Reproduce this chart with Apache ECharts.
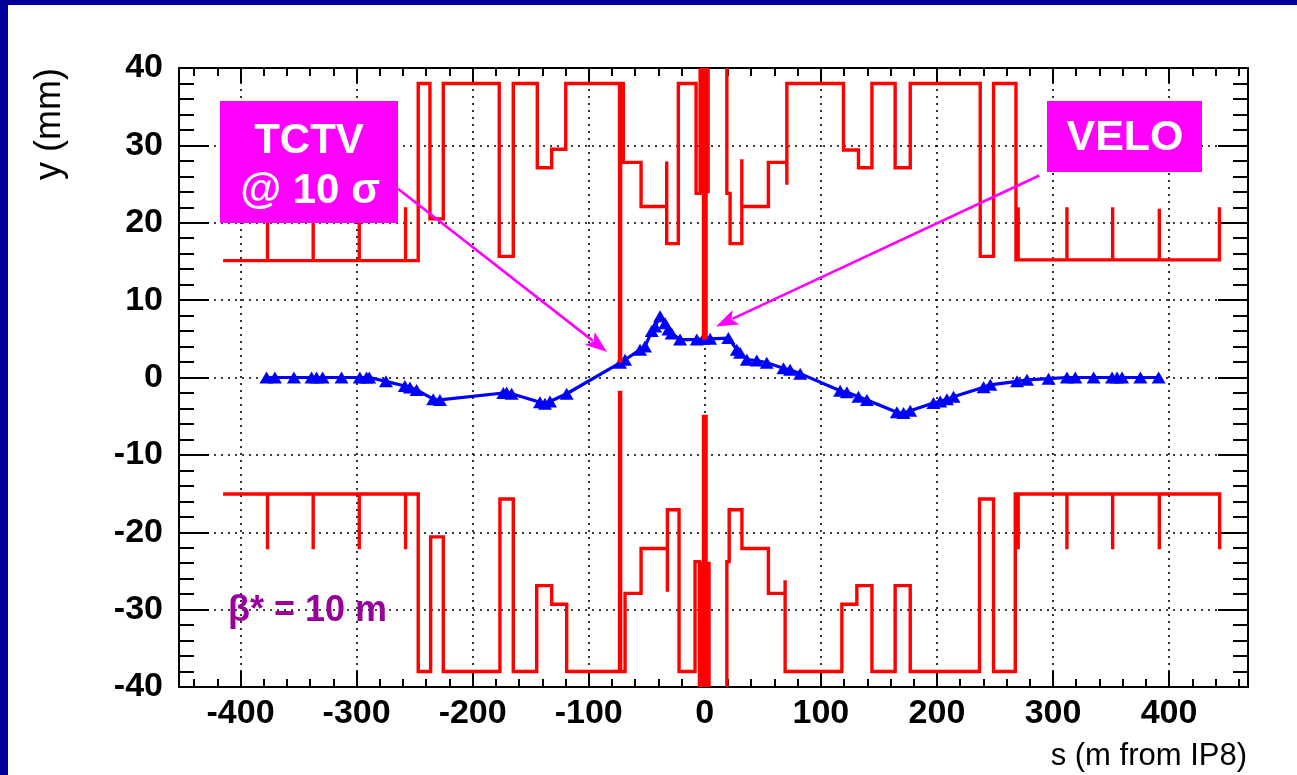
<!DOCTYPE html>
<html><head><meta charset="utf-8">
<script src="https://cdn.jsdelivr.net/npm/echarts@6/dist/echarts.min.js"></script>
<style>html,body{margin:0;padding:0;background:#fff;overflow:hidden}#c{width:1297px;height:775px}</style>
</head><body><div id="c"></div>
<script>
// Beam orbit (blue, triangles)
const orbitS = [-377.6,-370.4,-354,-338.8,-334.5,-329.3,-313,-297.2,-291.4,-289.1,-274.7,-258.4,-254,-248.3,-234,-228.2,-173.6,-170.7,-166.4,-142,-137.7,-133.4,-119,-73,-68.7,-55.8,-51.5,-45.7,-42.8,-38.5,-34.2,-31.4,-28.5,-21.3,-6.9,-1.2,4.6,20.3,27.6,30.4,36.2,44.8,53.4,67.8,73.5,82.2,116.6,122.4,132.4,139.7,165.5,171.2,177,197,202.8,208.6,214.3,240.2,246,269,277.6,296.2,312,319.2,335,350.9,355.2,359.5,375.3,391];
const orbitY = [0,0,0,0,0,0,0,0,0,0,-0.5,-1.1,-1.3,-1.6,-2.8,-2.9,-2.0,-1.95,-2.1,-3.2,-3.4,-3.1,-2.1,1.9,2.3,3.6,4.0,6.0,6.6,7.9,7.0,6.2,5.7,4.9,4.9,5.0,5.0,5.1,3.6,3.2,2.3,2.2,1.9,1.2,1.0,0.5,-1.7,-1.9,-2.5,-2.9,-4.5,-4.6,-4.3,-3.3,-3.1,-2.8,-2.5,-1.25,-0.95,-0.5,-0.3,-0.15,0,0,0,0,0,0,0,0];

// Aperture (red) [s, y] in m, mm
const upperLeft = [[-415,15.1],[-376.7,15.1],[-376.7,22],[-376.7,15.1],[-337.4,15.1],[-337.4,22],[-337.4,15.1],[-297.7,15.1],[-297.7,22],[-297.7,15.1],[-257.8,15.1],[-257.8,22],[-257.8,15.1],[-246.9,15.1],[-246.9,38],[-236.8,38],[-236.8,20.5],[-225.3,20.5],[-225.3,38],[-177.1,38],[-177.1,15.65],[-165,15.65],[-165,38],[-144.3,38],[-144.3,27.1],[-131.9,27.1],[-131.9,29.5],[-119.8,29.5],[-119.8,38],[-70.2,38],[-70.2,27.8],[-54.9,27.8],[-54.9,22.1],[-32.8,22.1],[-32.8,27.9],[-32.8,17.3],[-22.8,17.3],[-22.8,38],[-7.5,38],[-7.5,23.8],[-4,23.8],[-4,40]];
const upperRight = [[19,40],[19,23.8],[21.8,23.8],[21.8,17.3],[31.9,17.3],[31.9,28.2],[31.9,22.1],[54.8,22.1],[54.8,27.8],[70.7,27.8],[70.7,24.9],[70.7,38],[119.5,38],[119.5,29.4],[132.4,29.4],[132.4,27.1],[144,27.1],[144,38],[164,38],[164,27.1],[177,27.1],[177,38],[237.3,38],[237.3,15.65],[248.8,15.65],[248.8,21.9],[248.8,38],[268.1,38],[268.1,15.2],[270,15.2],[270,22],[270,15.2],[312,15.2],[312,22],[312,15.2],[351.4,15.2],[351.4,22],[351.4,15.2],[391.6,15.2],[391.6,21.8],[391.6,15.2],[443.4,15.2],[443.4,22]];
const lowerLeft = [[-415,-15.05],[-376.7,-15.05],[-376.7,-22.2],[-376.7,-15.05],[-337.4,-15.05],[-337.4,-22.2],[-337.4,-15.05],[-297.7,-15.05],[-297.7,-22.2],[-297.7,-15.05],[-257.8,-15.05],[-257.8,-22.2],[-257.8,-15.05],[-246.9,-15.05],[-246.9,-38],[-236.2,-38],[-236.2,-20.6],[-225.3,-20.6],[-225.3,-38],[-176.5,-38],[-176.5,-15.7],[-165,-15.7],[-165,-38],[-144.8,-38],[-144.8,-26.9],[-131.9,-26.9],[-131.9,-29.3],[-119,-29.3],[-119,-38],[-68.7,-38],[-68.7,-27.9],[-54.9,-27.9],[-54.9,-22.1],[-32.2,-22.1],[-32.2,-27.7],[-32.2,-17.1],[-22.2,-17.1],[-22.2,-23.6],[-22.2,-38],[-8.4,-38],[-8.4,-23.8],[-4.6,-23.8],[-4.6,-40]];
const lowerRight = [[19,-40],[19,-23.8],[21,-23.8],[21,-17.1],[32,-17.1],[32,-22.1],[54.8,-22.1],[54.8,-27.9],[69.2,-27.9],[69.2,-26.2],[69.2,-38],[118.1,-38],[118.1,-29.3],[131,-29.3],[131,-26.9],[144,-26.9],[144,-38],[164,-38],[164,-26.9],[177,-26.9],[177,-38],[236.7,-38],[236.7,-15.7],[248.8,-15.7],[248.8,-21.9],[248.8,-38],[267.5,-38],[267.5,-15.05],[270,-15.05],[270,-22.2],[270,-15.05],[312,-15.05],[312,-22.2],[312,-15.05],[351.4,-15.05],[351.4,-22.2],[351.4,-15.05],[391.6,-15.05],[391.6,-22.2],[391.6,-15.05],[443.6,-15.05],[443.6,-22.2]];

// Collimator (TCTV) jaws and VELO
const tctvUpper = [[-73,38.2],[-73,1.9]];
const tctvLower = [[-73,-1.7],[-73,-38]];
const veloUpper = [[0,40],[0,4.9]];
const veloLower = [[0,-4.8],[0,-40]];
const veloUpperBody = [[0,40],[0,23.8]];
const veloLowerBody = [[0.8,-23.8],[0.8,-40]];

// Annotation arrows [start, tip] in (s, y)
const tctvArrow = [[-264.4,24.4],[-84.2,3.3]];
const veloArrow = [[288.2,26.1],[9.7,6.6]];

const FONT = '"Liberation Sans", Arial, Helvetica, sans-serif';
const RED = '#ff0000';
const MAG = '#ff00ff';
const chart = echarts.init(document.getElementById('c'), null, {renderer:'canvas'});

function redLine(data, width, z) {
  return {type:'line', data:data, xAxisIndex:0, yAxisIndex:0, symbol:'none', clip:true,
    lineStyle:{color:RED, width:width, join:'miter'}, z:z||3, silent:true, animation:false};
}
function xAxisDef(pos, labels) {
  return {type:'value', position:pos, min:-453, max:468, splitNumber:9,
    axisLine:{show:true, onZero:false, lineStyle:{color:'#000', width:2}},
    axisTick:{show:true, inside:true, length:pos==='bottom'?16:15, lineStyle:{color:'#000', width:2}},
    minorTick:{show:true, splitNumber:5, length:8, lineStyle:{color:'#000', width:2}},
    axisLabel:{show:labels, color:'#000', fontFamily:FONT, fontWeight:'bold', fontSize:34, margin:10, showMinLabel:false, showMaxLabel:false},
    splitLine:{show:labels, lineStyle:{color:'#000', width:1.6, type:[2,5]}}};
}
function yAxisDef(pos, labels) {
  return {type:'value', position:pos, min:-40, max:40, interval:10,
    axisLine:{show:true, onZero:false, lineStyle:{color:'#000', width:2}},
    axisTick:{show:true, inside:true, length:30, lineStyle:{color:'#000', width:2}},
    minorTick:{show:true, splitNumber:5, length:15, lineStyle:{color:'#000', width:2}},
    axisLabel:{show:labels, color:'#000', fontFamily:FONT, fontWeight:'bold', fontSize:34, margin:16},
    splitLine:{show:labels, lineStyle:{color:'#000', width:1.6, type:[2,5]}}};
}

const staticGraphic = [
  {type:'rect', x:0, y:0, shape:{width:1297, height:5}, style:{fill:'#000099'}, z:100, silent:true},
  {type:'rect', x:0, y:0, shape:{width:8, height:775}, style:{fill:'#000099'}, z:100, silent:true},
  {type:'rect', x:220, y:101, shape:{width:178, height:122}, style:{fill:MAG}, z:110, silent:true},
  {type:'text', x:309, y:141, z:111, silent:true, style:{text:'TCTV', fill:'#fff', fontFamily:FONT, fontWeight:'bold', fontSize:42, align:'center', verticalAlign:'middle'}},
  {type:'text', x:310, y:191, z:111, silent:true, style:{text:'@ 10 σ', fill:'#fff', fontFamily:FONT, fontWeight:'bold', fontSize:42, align:'center', verticalAlign:'middle'}},
  {type:'rect', x:1047, y:101, shape:{width:155, height:71}, style:{fill:MAG}, z:110, silent:true},
  {type:'text', x:1125, y:138, z:111, silent:true, style:{text:'VELO', fill:'#fff', fontFamily:FONT, fontWeight:'bold', fontSize:43, align:'center', verticalAlign:'middle'}},
  {type:'text', x:228, y:611, z:101, silent:true, style:{text:'β* = 10 m', fill:'#990099', fontFamily:FONT, fontWeight:'bold', fontSize:36, align:'left', verticalAlign:'middle'}},
  {type:'text', x:50, y:68, rotation:Math.PI/2, z:101, silent:true, style:{text:'y (mm)', fill:'#000', fontFamily:FONT, fontSize:36, align:'right', verticalAlign:'middle'}},
  {type:'text', x:1247, y:756, z:101, silent:true, style:{text:'s (m from IP8)', fill:'#000', fontFamily:FONT, fontSize:31, align:'right', verticalAlign:'middle'}}
];

const option = {
  backgroundColor:'#ffffff',
  animation:false,
  grid: {left:179, top:68, right:49, bottom:88, containLabel:false},
  xAxis: [xAxisDef('bottom', true), xAxisDef('top', false)],
  yAxis: [yAxisDef('left', true), yAxisDef('right', false)],
  series: [
    redLine(upperLeft, 3.4), redLine(upperRight, 3.4), redLine(lowerLeft, 3.4), redLine(lowerRight, 3.4),
    {type:'line', name:'orbit', data: orbitS.map((s,i)=>[s, orbitY[i]]), xAxisIndex:0, yAxisIndex:0,
      symbol:'triangle', symbolSize:[14,12], showSymbol:true, clip:true,
      lineStyle:{color:'#0000ff', width:3.2}, itemStyle:{color:'#0000ff'}, z:4, silent:true, animation:false},
    redLine(tctvUpper, 4.5, 5), redLine(tctvLower, 4.5, 5),
    redLine(veloUpperBody, 10, 5), redLine(veloLowerBody, 10, 5),
    redLine(veloUpper, 6, 5), redLine(veloLower, 6, 5)
  ],
  graphic: staticGraphic
};
chart.setOption(option);

// arrows positioned through the axes' scales
function arrowElems(a) {
  const p0 = chart.convertToPixel({gridIndex:0}, a[0]);
  const p1 = chart.convertToPixel({gridIndex:0}, a[1]);
  const dx = p1[0]-p0[0], dy = p1[1]-p0[1];
  const len = Math.sqrt(dx*dx+dy*dy), ux = dx/len, uy = dy/len;
  const L = 22, W = 16;
  const bx = p1[0]-ux*L, by = p1[1]-uy*L;
  return [
    {type:'line', z:105, silent:true, shape:{x1:p0[0], y1:p0[1], x2:bx+ux*4, y2:by+uy*4}, style:{stroke:MAG, lineWidth:2.6}},
    {type:'polygon', z:105, silent:true, shape:{points:[[p1[0],p1[1]],[bx-uy*W/2, by+ux*W/2],[bx+ux*5, by+uy*5],[bx+uy*W/2, by-ux*W/2]]}, style:{fill:MAG}}
  ];
}
chart.setOption({graphic: staticGraphic.concat(arrowElems(tctvArrow), arrowElems(veloArrow))});
</script>
</body></html>
